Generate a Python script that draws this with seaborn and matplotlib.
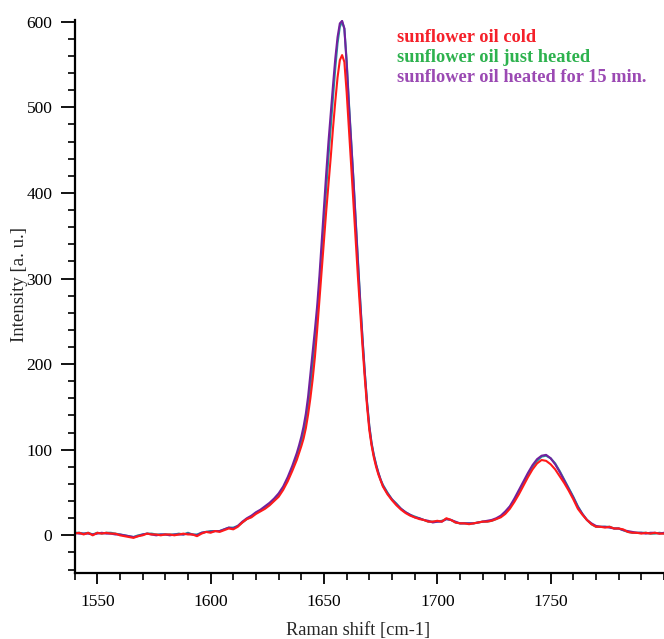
import numpy as np
import pandas as pd
import matplotlib
matplotlib.use("Agg")
import matplotlib.pyplot as plt
from matplotlib.ticker import MultipleLocator
import seaborn as sns

# Raman shift sampling (cm-1): coarse on the baseline, 1 cm-1 across the C=C band
raman_shift = np.r_[1540:1640:2, 1639:1677:1, 1678:1801:2].astype(float)

cold = [
    2, 3, 1, 3, 0, 3, 2, 3, 2, 2,
    0, -1, -2, -3, -1, 0, 2, 1, 1, 0,
    1, 1, 0, 1, 2, 1, 1, -1, 2, 4,
    3, 5, 4, 6, 8, 7, 10, 15, 19, 21,
    25, 28, 31, 35, 40, 45, 53, 63, 75, 88,
    # 1639 .. 1676
    96, 104, 113, 125, 141, 160, 182, 208, 240, 275,
    311, 346, 379, 410, 442, 476, 507, 535, 555, 561,
    553, 518, 476, 432, 388, 343, 301, 260, 221, 184,
    151, 123, 105, 91, 80, 71, 64, 57,
    # 1678 .. 1800
    48, 41, 35, 30, 26, 23, 21, 19, 18, 16,
    16, 17, 16, 20, 18, 15, 14, 14, 13, 14,
    15, 16, 16, 17, 19, 21, 25, 31, 39, 48,
    58, 68, 77, 84, 88, 87, 83, 77, 69, 61,
    52, 42, 31, 24, 18, 13, 10, 10, 9, 10,
    8, 8, 7, 4, 3, 3, 2, 3, 2, 3,
    2, 2,
]

just_heated = [
    3, 3, 2, 3, 1, 3, 2, 3, 3, 2,
    1, 0, -1, -2, 0, 1, 2, 2, 1, 1,
    1, 1, 1, 2, 1, 3, 1, 1, 3, 4,
    5, 5, 5, 7, 9, 9, 11, 15, 19, 22,
    26, 29, 32, 36, 41, 47, 55, 65, 78, 92,
    # 1639 .. 1676
    100, 109, 119, 133, 151, 173, 198, 226, 257, 292,
    330, 368, 406, 443, 478, 512, 546, 575, 594, 600,
    592, 555, 506, 461, 416, 368, 320, 274, 231, 191,
    156, 128, 108, 94, 83, 73, 65, 59,
    # 1678 .. 1800
    50, 42, 37, 31, 27, 24, 22, 20, 18, 16,
    16, 16, 17, 19, 18, 15, 14, 14, 14, 14,
    15, 16, 16, 17, 19, 22, 27, 33, 41, 51,
    61, 71, 80, 87, 92, 93, 90, 84, 75, 65,
    55, 45, 34, 25, 18, 13, 10, 10, 10, 10,
    8, 8, 6, 4, 3, 3, 3, 3, 2, 2,
    3, 2,
]

heated_15min = [
    3, 2, 2, 2, 1, 2, 3, 2, 2, 1,
    1, 0, -1, -2, -1, 1, 2, 1, 0, 1,
    1, 0, 1, 1, 1, 2, 1, 0, 3, 4,
    4, 5, 5, 7, 9, 8, 11, 16, 20, 23,
    27, 30, 34, 38, 43, 49, 57, 68, 81, 96,
    # 1639 .. 1676
    105, 115, 127, 142, 162, 188, 214, 240, 268, 303,
    343, 382, 423, 460, 493, 526, 557, 582, 598, 601,
    592, 552, 503, 459, 415, 366, 318, 272, 229, 190,
    155, 127, 107, 93, 82, 73, 65, 58,
    # 1678 .. 1800
    49, 42, 36, 31, 27, 24, 21, 20, 18, 17,
    15, 16, 16, 19, 18, 16, 14, 14, 14, 14,
    15, 16, 17, 18, 20, 23, 28, 34, 43, 53,
    63, 73, 82, 89, 93, 94, 90, 83, 74, 64,
    54, 44, 33, 25, 18, 14, 11, 10, 10, 9,
    8, 8, 6, 5, 4, 3, 3, 2, 3, 3,
    2, 3,
]

labels = ["sunflower oil cold", "sunflower oil just heated", "sunflower oil heated for 15 min."]
line_colors = ["#ff1a1a", "#1f9a98", "#72209e"]
text_colors = ["#f5202a", "#2db24e", "#9b49b3"]
x_ticks = [1550, 1600, 1650, 1700, 1750]
y_ticks = [0, 100, 200, 300, 400, 500, 600]

df = pd.concat(
    [
        pd.DataFrame({"shift": raman_shift, "intensity": vals, "sample": lab})
        for lab, vals in zip(labels, [cold, just_heated, heated_15min])
    ],
    ignore_index=True,
)

sns.set_theme(style="ticks")
plt.rcParams["font.family"] = ["Liberation Serif", "DejaVu Serif"]

W, H = 664, 639
fig = plt.figure(figsize=(W / 100, H / 100), dpi=100)
ax = fig.add_axes([74.6 / W, 1 - 573 / H, 1 - 74.6 / W, (573 - 20) / H])

sns.lineplot(
    data=df, x="shift", y="intensity", hue="sample",
    hue_order=[labels[1], labels[2], labels[0]],
    palette={labels[0]: line_colors[0], labels[1]: line_colors[1], labels[2]: line_colors[2]},
    estimator=None, sort=False, linewidth=1.5, legend=False, ax=ax,
)

ax.set_xlim(1540, 1800)
ax.set_ylim(-44, 602)
ax.set_xticks(x_ticks)
ax.xaxis.set_minor_locator(MultipleLocator(10))
ax.set_yticks(y_ticks)
ax.yaxis.set_minor_locator(MultipleLocator(20))

for side in ["top", "right"]:
    ax.spines[side].set_visible(False)
for side in ["left", "bottom"]:
    ax.spines[side].set_linewidth(1.6)
    ax.spines[side].set_color("black")

ax.tick_params(axis="y", which="major", direction="out", length=10, width=1.3,
               colors="black", labelsize=12.5, pad=6)
ax.tick_params(axis="y", which="minor", direction="out", length=5, width=1.2, colors="black")
ax.tick_params(axis="x", which="major", direction="out", length=8, width=1.3,
               colors="black", labelsize=12.5, pad=7)
ax.tick_params(axis="x", which="minor", direction="out", length=5, width=1.2, colors="black")
ax.set_xlabel("")
ax.set_ylabel("")
ax.grid(False)

fig.text(358 / W, 1 - 631 / H, "Raman shift [cm-1]", ha="center", va="center", fontsize=13.2)
fig.text(20 / W, 1 - 285 / H, "Intensity [a. u.]", ha="center", va="center",
         rotation=90, fontsize=13.5)

for i, (lab, col) in enumerate(zip(labels, text_colors)):
    fig.text(397 / W, 1 - (37 + 20 * i) / H, lab, color=col, ha="left", va="center",
             fontsize=13.2, fontweight="bold")

fig.savefig("out.png", dpi=100)
